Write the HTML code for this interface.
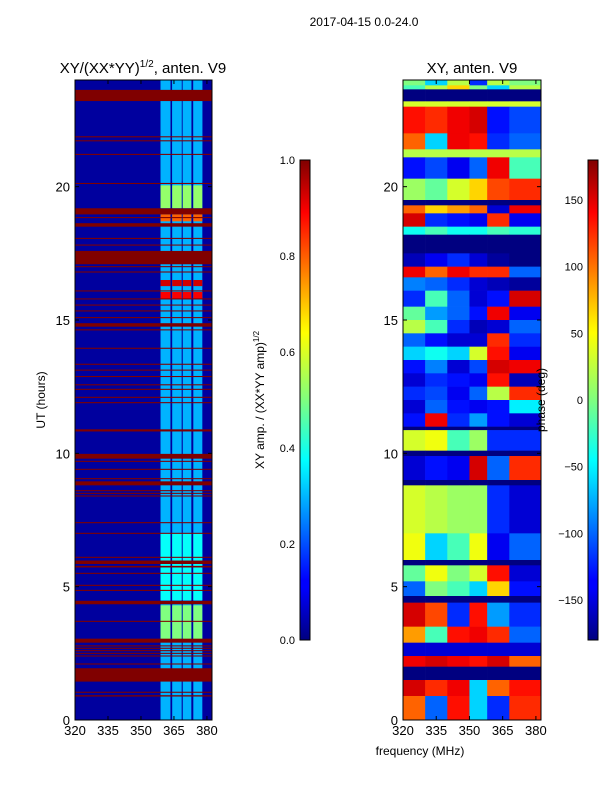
<!DOCTYPE html>
<html><head><meta charset="utf-8"><style>
body{margin:0;background:#fff;}
svg{display:block;font-family:"Liberation Sans",sans-serif;}
</style></head><body>
<svg id="fig" width="600" height="800" viewBox="0 0 600 800" xmlns="http://www.w3.org/2000/svg">
<defs>
<linearGradient id="jet" x1="0" y1="1" x2="0" y2="0">
<stop offset="0" stop-color="#00007f"/><stop offset="0.11" stop-color="#0000ff"/><stop offset="0.125" stop-color="#0000ff"/>
<stop offset="0.34" stop-color="#00e0ff"/><stop offset="0.375" stop-color="#00ffff"/><stop offset="0.5" stop-color="#7fff7f"/>
<stop offset="0.64" stop-color="#ffff00"/><stop offset="0.66" stop-color="#ffee00"/><stop offset="0.89" stop-color="#ff0000"/><stop offset="1" stop-color="#800000"/>
</linearGradient>
</defs>
<text x="364" y="26" font-size="12" text-anchor="middle">2017-04-15 0.0-24.0</text>
<text x="143" y="73" font-size="15" text-anchor="middle">XY/(XX*YY)<tspan font-size="10" dy="-6">1/2</tspan><tspan dy="6">, anten. V9</tspan></text>
<text x="472" y="73" font-size="15" text-anchor="middle">XY, anten. V9</text>
<g id="ampPanel"></g>
<g id="phasePanel"></g>
<g id="axes"></g>
<rect x="300" y="160" width="10" height="480" fill="url(#jet)" stroke="#000" stroke-width="1"/>
<rect x="588" y="160" width="10" height="480" fill="url(#jet)" stroke="#000" stroke-width="1"/>
<text transform="translate(264,400) rotate(-90)" font-size="12" text-anchor="middle">XY amp. / (XX*YY amp)<tspan font-size="8" dy="-5">1/2</tspan></text>
<text transform="translate(45,400) rotate(-90)" font-size="12" text-anchor="middle">UT (hours)</text>
<text transform="translate(545,400) rotate(-90)" font-size="12" text-anchor="middle">phase (deg)</text>
<text x="420" y="755" font-size="12" text-anchor="middle">frequency (MHz)</text>
</svg>
<script>
// ---- data ----
const xTicks = [320, 335, 350, 365, 380];
const yTicks = [0, 5, 10, 15, 20];
const ampFlagStart = [23.21,21.85,21.70,21.19,20.10,18.96,18.82,18.50,18.04,17.79,17.09,16.98,16.78,16.07,15.77,15.54,15.32,15.07,14.75,14.61,13.92,13.32,13.10,12.86,12.55,12.38,12.08,11.88,10.82,9.80,9.68,9.38,9.03,8.80,8.58,8.48,8.38,7.38,6.98,6.08,5.85,5.72,5.48,5.03,4.84,4.34,3.68,2.90,2.76,2.67,2.58,2.48,2.38,2.08,1.44,1.02,0.88];
const ampFlagEnd   = [23.63,21.89,21.74,21.23,20.14,19.19,18.86,18.63,18.08,17.83,17.59,17.02,16.82,16.11,15.81,15.58,15.36,15.11,14.88,14.65,13.96,13.36,13.14,12.90,12.59,12.42,12.12,11.92,10.90,9.98,9.72,9.42,9.07,8.95,8.62,8.52,8.42,7.42,7.02,6.12,5.98,5.78,5.52,5.07,4.88,4.47,3.72,3.05,2.80,2.71,2.62,2.52,2.42,2.12,1.94,1.06,0.93];
const ampColStart = [358.9, 364.2, 369.0, 373.8];
const ampColEnd   = [363.4, 368.5, 372.9, 377.9];
const ampBandStart = [0, 3.0, 4.5, 15.8, 16.27, 18.7, 19.2, 20.2];
const ampBandEnd   = [24, 4.3, 7.0, 16.05, 16.5, 18.96, 20.05, 24];
const ampBandValue = [0.30, 0.50, 0.38, 0.88, 0.92, 0.78, 0.52, 0.30];
const ampBackground = 0.03;
const phaseColEdges = [320, 330, 340, 350, 358, 368, 382.3];
const phaseRowStart = [23.8,23.65,23.2,23.0,22.0,21.4,21.1,20.3,19.5,19.3,19.0,18.5,18.2,17.5,17.0,16.6,16.1,15.5,15.0,14.5,14.0,13.5,13.0,12.5,12.0,11.5,11.0,10.87,10.1,9.9,9.0,8.8,7.0,6.0,5.8,5.2,4.65,4.4,3.5,2.9,2.4,2.0,1.5,0.9,0.0];
const phaseRowEnd   = [24,23.8,23.65,23.2,23.0,22.0,21.4,21.1,20.3,19.5,19.3,19.0,18.5,18.2,17.5,17.0,16.6,16.1,15.5,15.0,14.5,14.0,13.5,13.0,12.5,12.0,11.5,11.0,10.87,10.1,9.9,9.0,8.8,7.0,6.0,5.8,5.2,4.65,4.4,3.5,2.9,2.4,2.0,1.5,0.9];
const phaseVals = [
[0,-60,20,-120,20,0],[-20,20,60,0,-60,20],[-180,-180,-180,-180,-180,-180],[30,30,30,30,30,30],
[130,120,140,150,-130,-110],[100,-60,140,130,-120,-100],[20,20,20,20,20,20],[-130,-110,-140,-100,140,-20],
[10,-10,30,60,110,120],[-180,-180,-180,-180,-180,-180],[100,60,80,100,-150,140],[150,-120,-130,-140,120,-140],
[-40,-20,-40,-40,-20,-30],[-180,-180,-180,-180,-180,-180],[-160,-140,-120,-150,-170,-180],[140,100,140,120,120,-100],
[-90,-100,-120,-150,-160,-170],[-120,-20,-100,-150,-130,150],[-10,-80,-100,-130,140,-140],[20,-20,-120,-160,-150,-100],
[-100,-130,-150,-150,120,-120],[-60,-40,-60,30,130,-140],[-130,-90,-150,-110,150,140],[-150,-120,-130,-140,130,-160],
[-120,-110,-140,-100,20,120],[-150,-100,-130,-140,-130,-50],[-130,140,-120,-80,-130,-150],[-180,-180,-180,-180,-180,-180],
[30,40,-20,10,-120,-120],[-180,-180,-180,-180,-180,-180],[-150,-130,-140,150,-100,120],[-180,-180,-180,-180,-180,-180],
[30,20,10,10,-120,-150],[40,-60,-20,40,-140,-100],[-180,-180,-180,-180,-180,-180],[-10,40,0,30,130,-150],
[-100,0,-20,-60,60,-130],[-180,-180,-180,-180,-180,-180],[150,110,-120,130,-80,-120],[80,-20,130,140,120,-100],
[-150,-150,-150,-150,-150,-150],[140,150,140,130,150,100],[-180,-180,-180,-180,-180,-180],[150,120,140,-60,100,130],
[100,-100,130,-60,-120,120]];
const ampCbTicks = [0.0, 0.2, 0.4, 0.6, 0.8, 1.0];
const phaseCbTicks = [-150, -100, -50, 0, 50, 100, 150];

// ---- helpers ----
const NS = "http://www.w3.org/2000/svg";
const PT = 80, PB = 720, XMIN = 320, XMAX = 382.3;
const panels = [{x0:75,x1:212},{x0:403,x1:541}];
function xs(p, v){ return panels[p].x0 + (v - XMIN) / (XMAX - XMIN) * (panels[p].x1 - panels[p].x0); }
function ys(h){ return PB - h / 24 * (PB - PT); }
function jet(t){
  t = Math.max(0, Math.min(1, t));
  const r = Math.max(0, Math.min(1, 1.5 - Math.abs(4*t - 3)));
  const g = Math.max(0, Math.min(1, 1.5 - Math.abs(4*t - 2)));
  const b = Math.max(0, Math.min(1, 1.5 - Math.abs(4*t - 1)));
  return `rgb(${Math.round(r*255)},${Math.round(g*255)},${Math.round(b*255)})`;
}
function rect(parent, x, y, w, h, fill){
  const r = document.createElementNS(NS, "rect");
  r.setAttribute("x", x); r.setAttribute("y", y); r.setAttribute("width", w); r.setAttribute("height", h);
  r.setAttribute("fill", fill);
  parent.appendChild(r);
  return r;
}
function text(parent, x, y, s, anchor, size){
  const t = document.createElementNS(NS, "text");
  t.setAttribute("x", x); t.setAttribute("y", y); t.setAttribute("font-size", size);
  t.setAttribute("text-anchor", anchor); t.textContent = s;
  parent.appendChild(t);
  return t;
}
function line(parent, x1, y1, x2, y2){
  const l = document.createElementNS(NS, "line");
  l.setAttribute("x1", x1); l.setAttribute("y1", y1); l.setAttribute("x2", x2); l.setAttribute("y2", y2);
  l.setAttribute("stroke", "#000"); l.setAttribute("stroke-width", "1");
  parent.appendChild(l);
  return l;
}

// ---- amplitude heatmap ----
const amp = document.getElementById("ampPanel");
let bg = rect(amp, xs(0, XMIN), ys(24), xs(0, XMAX) - xs(0, XMIN), ys(0) - ys(24), jet(ampBackground));


for (let b = 0; b < ampBandStart.length; b++) {
  for (let c = 0; c < ampColStart.length; c++) {
    const r = rect(amp, xs(0, ampColStart[c]), ys(ampBandEnd[b]), xs(0, ampColEnd[c]) - xs(0, ampColStart[c]), ys(ampBandStart[b]) - ys(ampBandEnd[b]), jet(ampBandValue[b]));
    
    
  }
}
for (let i = 0; i < ampFlagStart.length; i++) {
  const r = rect(amp, xs(0, XMIN), ys(ampFlagEnd[i]), xs(0, XMAX) - xs(0, XMIN), Math.max(1, ys(ampFlagStart[i]) - ys(ampFlagEnd[i])), jet(1));
  
  
}

// ---- phase heatmap ----
const ph = document.getElementById("phasePanel");
for (let i = 0; i < phaseRowStart.length; i++) {
  for (let c = 0; c < phaseColEdges.length - 1; c++) {
    const v = phaseVals[i][c];
    const r = rect(ph, xs(1, phaseColEdges[c]), ys(phaseRowEnd[i]), xs(1, phaseColEdges[c+1]) - xs(1, phaseColEdges[c]) + 0.3, ys(phaseRowStart[i]) - ys(phaseRowEnd[i]) + 0.3, jet((v + 180) / 360));
    
    
  }
}

// ---- axes ----
const ax = document.getElementById("axes");
for (let p = 0; p < 2; p++) {
  const fr = rect(ax, panels[p].x0, PT, panels[p].x1 - panels[p].x0, PB - PT, "none");
  fr.setAttribute("stroke", "#000");
  
  
  for (const t of xTicks) {
    const x = xs(p, t);
    line(ax, x, PB, x, PB - 4); line(ax, x, PT, x, PT + 4);
    const tl = text(ax, x, PB + 15, String(t), "middle", 13);
    
    
  }
  for (const t of yTicks) {
    const y = ys(t);
    line(ax, panels[p].x0, y, panels[p].x0 + 4, y); line(ax, panels[p].x1, y, panels[p].x1 - 4, y);
    const tl = text(ax, panels[p].x0 - 5, y + 5, String(t), "end", 13);
    
    
  }
}
for (const t of ampCbTicks) {
  const y = 640 - t * 480;
  line(ax, 300, y, 310, y);
  const tl = text(ax, 295, y + 4, t.toFixed(1), "end", 11);
  
  
}
for (const t of phaseCbTicks) {
  const y = 400 - t / 360 * 480;
  line(ax, 588, y, 598, y);
  const tl = text(ax, 583, y + 4, t < 0 ? "\u2212" + Math.abs(t) : String(t), "end", 11);
  
  
}
</script>
</body></html>
